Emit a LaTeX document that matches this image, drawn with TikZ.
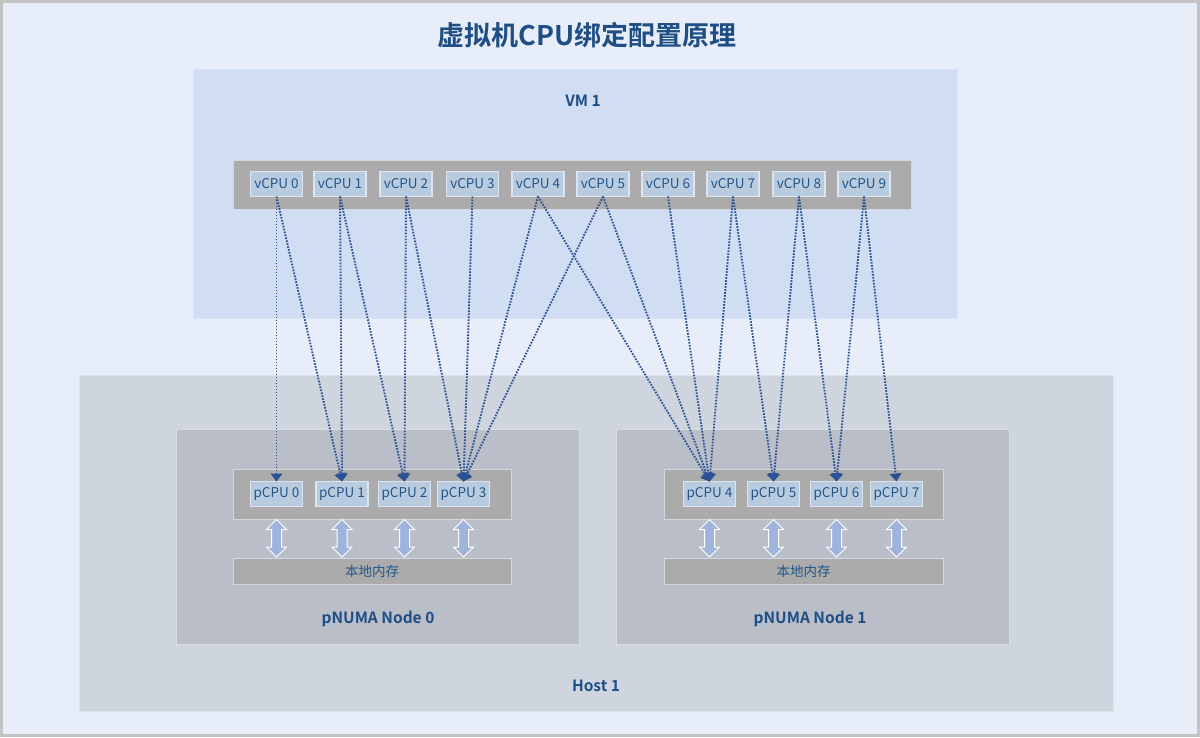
\documentclass[tikz,border=0pt]{standalone}
\usepackage{fontspec}
\setmainfont{Noto Sans CJK SC}[BoldFont={Noto Sans CJK SC Bold}]
\usetikzlibrary{arrows.meta}
\definecolor{framegray}{HTML}{C3C3C3}
\definecolor{bgblue}{HTML}{E8EEF9}
\definecolor{vmfill}{HTML}{D0DDF3}
\definecolor{vmline}{HTML}{DAE3F5}
\definecolor{barfill}{HTML}{ABABAB}
\definecolor{barline}{HTML}{D2D7E0}
\definecolor{cpufill}{HTML}{B9CCDF}
\definecolor{cpuline}{HTML}{DCE5EF}
\definecolor{hostfill}{HTML}{CFD5DF}
\definecolor{hostline}{HTML}{DEE3EA}
\definecolor{nodefill}{HTML}{B9BEC8}
\definecolor{nodeline}{HTML}{DADDE4}
\definecolor{arrfill}{HTML}{9FB4DC}
\definecolor{titleblue}{HTML}{1F4E85}
\definecolor{textblue}{HTML}{245589}
\definecolor{linkblue}{HTML}{2B5194}
\begin{document}
\begin{tikzpicture}[x=1pt,y=-1pt,
  box/.style={rectangle,inner sep=0pt,outer sep=0pt,line width=1pt},
  cpu/.style={box,fill=cpufill,draw=cpuline,line width=1.5pt,minimum width=52pt,minimum height=25pt,
    text=textblue,font=\fontsize{13.5}{15}\selectfont},
  bar/.style={box,fill=barfill,draw=barline},
  lbl/.style={text=titleblue,font=\fontsize{15.5}{18}\selectfont\bfseries},
  link/.style={draw=linkblue,line width=1.9pt,dash pattern=on 1.6pt off 1.4pt,
    -{Triangle[width=12pt,length=8pt,fill=linkblue,line width=0pt]}},
  darrow/.pic={\filldraw[fill=arrfill,draw=white,line width=1pt]
    (0,0) -- (10,10) -- (5,10) -- (5,27.5) -- (10,27.5) -- (0,37.5) -- (-10,27.5) -- (-5,27.5)
    -- (-5,10) -- (-10,10) -- cycle;}
]
\useasboundingbox (0,0) rectangle (1200,737);
\fill[framegray] (0,0) rectangle (1200,737);
\fill[bgblue] (3,3) rectangle (1197,734);

\node[text=titleblue,font=\fontsize{27}{30}\selectfont\bfseries] (title) at (587,35) {虚拟机CPU绑定配置原理};

% VM
\node[box,fill=vmfill,draw=vmline,minimum width=764pt,minimum height=249pt] (vm) at (575,193.5) {};
\node[lbl] (vmlbl) at (583,101) {VM 1};
\node[bar,minimum width=678pt,minimum height=49pt] (vbar) at (572,184.5) {};

% Host
\node[box,fill=hostfill,draw=hostline,minimum width=1034pt,minimum height=336pt] (host) at (596,543) {};
\node[lbl] (hostlbl) at (596,686) {Host 1};
\node[box,fill=nodefill,draw=nodeline,minimum width=403pt,minimum height=215pt] (n0) at (377.5,536.5) {};
\node[box,fill=nodefill,draw=nodeline,minimum width=393pt,minimum height=215pt] (n1) at (812.5,536.5) {};
\node[lbl] (n0lbl) at (378,619) {pNUMA Node 0};
\node[lbl] (n1lbl) at (810,619) {pNUMA Node 1};
\node[bar,minimum width=278pt,minimum height=50pt] (pb0) at (372,494.5) {};
\node[bar,minimum width=279pt,minimum height=50pt] (pb1) at (803.5,494.5) {};
\node[bar,minimum width=278pt,minimum height=26pt,text=textblue,font=\fontsize{13.5}{15}\selectfont] (m0) at (372,571) {本地内存};
\node[bar,minimum width=279pt,minimum height=26pt,text=textblue,font=\fontsize{13.5}{15}\selectfont] (m1) at (803.5,571) {本地内存};

% vCPUs
\foreach \i/\x in {0/276.5,1/340,2/406,3/472.5,4/538,5/603,6/668,7/733,8/799,9/864}
  \node[cpu] (v\i) at (\x,184) {vCPU \i};
% pCPUs
\foreach \i/\x in {0/276.5,1/342,2/404.5,3/463.5}
  \node[cpu] (p\i) at (\x,494) {pCPU \i};
\foreach \i/\x in {4/709.5,5/773.5,6/836.5,7/896.5}
  \node[cpu] (p\i) at (\x,494) {pCPU \i};

% memory arrows
\foreach \i in {0,1,2,3} \path (p\i |- pb0.south) pic {darrow};
\foreach \i in {4,5,6,7} \path (p\i |- pb1.south) pic {darrow};

% bindings
\foreach \a/\b in {0/0,0/1,1/1,1/2,2/2,2/3,3/3,4/3,4/4,5/3,5/4,6/4,7/4,7/5,8/5,8/6,9/6,9/7}
  \draw[link] (v\a.south) -- (p\b.north);
\end{tikzpicture}
\end{document}
